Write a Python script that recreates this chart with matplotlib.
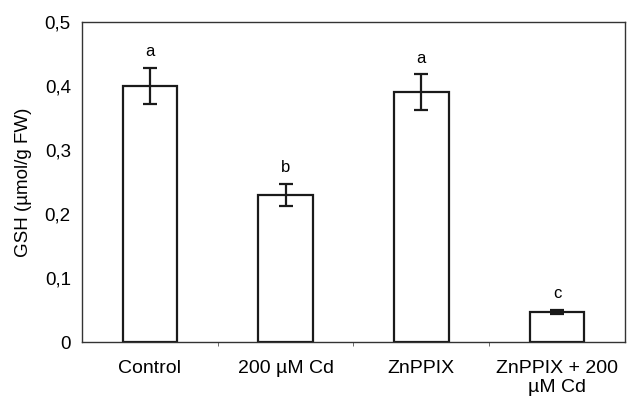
import numpy as np
from matplotlib import pyplot as plt

plt.rcParams['font.family'] = ['Liberation Sans', 'DejaVu Sans']

groups = ["Control", "200 µM Cd", "ZnPPIX", "ZnPPIX + 200\nµM Cd"]
gsh = [0.400, 0.230, 0.390, 0.047]
err = [0.028, 0.017, 0.028, 0.003]
letters = ["a", "b", "a", "c"]

fig = plt.figure(figsize=(6.34, 3.98), dpi=100)
ax = fig.add_axes([0.1293, 0.1407, 0.8565, 0.804])

x = np.arange(len(groups))
ax.bar(x, gsh, width=0.4, color="white", edgecolor="#1a1a1a", linewidth=1.6)
ax.errorbar(x, gsh, yerr=err, fmt="none", ecolor="#1a1a1a", elinewidth=1.6,
            capsize=5, capthick=1.6)
for xi, v, e, l in zip(x, gsh, err, letters):
    ax.text(xi, v + e + 0.014, l, ha="center", va="bottom", fontsize=12)

ax.set_xlim(-0.5, len(groups) - 0.5)
ax.set_ylim(0, 0.5)
yt = np.arange(0, 0.51, 0.1)
ax.set_yticks(yt)
ax.set_yticklabels(["0"] + [("%.1f" % t).replace(".", ",") for t in yt[1:]], fontsize=13.5)
ax.set_xticks(x)
ax.set_xticklabels(groups, fontsize=14, linespacing=1.15)
ax.set_xticks(np.arange(0.5, len(groups) - 0.5, 1), minor=True)
ax.tick_params(axis="x", which="major", length=0, pad=13)
ax.tick_params(axis="x", which="minor", length=3, color="#555555")
ax.tick_params(axis="y", length=0, pad=8)
for s in ax.spines.values():
    s.set_color("#333333")
    s.set_linewidth(1.0)
ax.set_ylabel("GSH (µmol/g FW)", fontsize=13.5, labelpad=9)

plt.savefig("out.png", dpi=100)
